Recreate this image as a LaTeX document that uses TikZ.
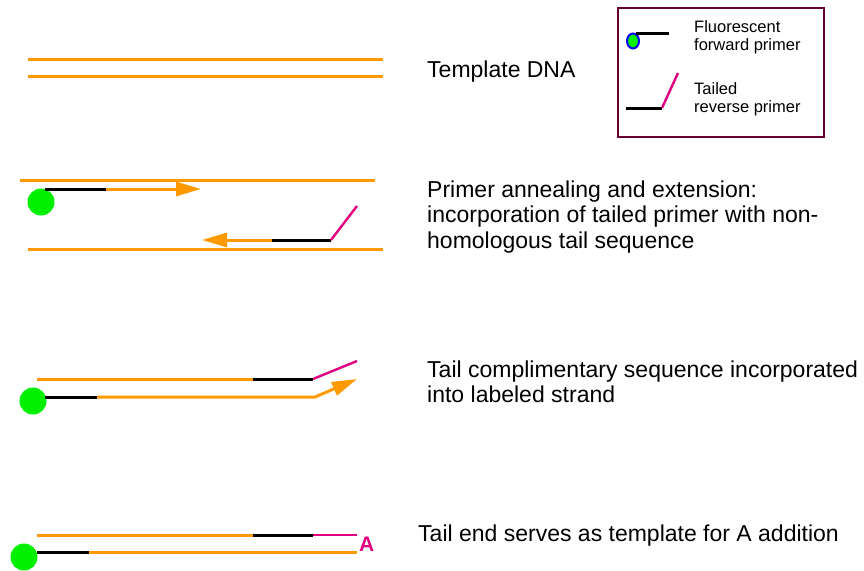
\documentclass[tikz,border=0pt]{standalone}
\usepackage{fontspec}
\setmainfont{Liberation Sans}
\usetikzlibrary{arrows.meta,shapes.geometric}
\definecolor{dnaorange}{HTML}{FF9900}
\definecolor{tailpink}{HTML}{E0007F}
\definecolor{boxpurple}{HTML}{660033}
\definecolor{dotgreen}{HTML}{00F000}
\tikzset{
  strand/.style={draw=dnaorange, line width=3pt},
  primer/.style={draw=black, line width=3pt},
  tail/.style={draw=tailpink, line width=2.4pt},
  ext/.style={draw=dnaorange, line width=3pt, -{Triangle[length=25pt,width=14pt]}},
  label/.style={anchor=base west, font=\fontsize{23}{25}\selectfont, inner sep=0pt},
  legtext/.style={anchor=base west, font=\fontsize{16.5}{18}\selectfont, inner sep=0pt},
  dye/.style={circle, fill=dotgreen, minimum size=27pt, inner sep=0pt}
}
\begin{document}
\begin{tikzpicture}[x=1pt,y=-1pt]
\useasboundingbox (0,0) rectangle (864,570);
% Legend
\node[draw=boxpurple, line width=2pt, minimum width=206pt, minimum height=129pt, anchor=north west, inner sep=0pt] (legend) at (617,7) {};
\node[ellipse, draw=blue, line width=2pt, fill=dotgreen, minimum width=12pt, minimum height=15pt, inner sep=0pt] (ldye) at (633,41) {};
\coordinate (lf1) at (636,33);
\coordinate (lf2) at (669,33);
\draw[primer] (lf1) -- (lf2);
\node[legtext] (lt1) at (694,32) {Fluorescent};
\node[legtext] (lt1b) at (694,50) {forward primer};
\coordinate (lr1) at (626,108);
\coordinate (lr2) at (662,108);
\coordinate (lr3) at (678,73);
\draw[primer] (lr1) -- (lr2);
\draw[tail] (lr2) -- (lr3);
\node[legtext] (lt2) at (694,94) {Tailed};
\node[legtext] (lt2b) at (694,112) {reverse primer};
% Section 1
\coordinate (a1) at (28,59); \coordinate (a2) at (383,59);
\coordinate (b1) at (28,76); \coordinate (b2) at (383,76);
\draw[strand] (a1) -- (a2);
\draw[strand] (b1) -- (b2);
\node[label] (t1) at (427,77) {Template DNA};
% Section 2
\coordinate (c1) at (20,180); \coordinate (c2) at (375,180);
\draw[strand] (c1) -- (c2);
\coordinate (d1) at (28,249); \coordinate (d2) at (383,249);
\draw[strand] (d1) -- (d2);
\node[dye] (g2) at (41,202) {};
\coordinate (p1) at (45,189); \coordinate (p2) at (106,189); \coordinate (p3) at (201,189);
\draw[primer] (p1) -- (p2);
\draw[ext] (p2) -- (p3);
\coordinate (r1) at (331,240); \coordinate (r2) at (272,240); \coordinate (r3) at (202,240);
\coordinate (r4) at (357,206);
\draw[primer] (r1) -- (r2);
\draw[ext] (r2) -- (r3);
\draw[tail] (r1) -- (r4);
\node[label] (t2a) at (427,197) {Primer annealing and extension:};
\node[label] (t2b) at (427,222.5) {incorporation of tailed primer with non-};
\node[label] (t2c) at (427,248) {homologous tail sequence};
% Section 3
\coordinate (e1) at (37,379); \coordinate (e2) at (253,379); \coordinate (e3) at (313,379); \coordinate (e4) at (357,361);
\draw[strand] (e1) -- (e2);
\draw[primer] (e2) -- (e3);
\draw[tail] (e3) -- (e4);
\node[dye] (g3) at (33,401) {};
\coordinate (f1) at (45,397); \coordinate (f2) at (97,397); \coordinate (f3) at (315,397); \coordinate (f4) at (357,379);
\draw[primer] (f1) -- (f2);
\draw[ext] (f2) -- (f3) -- (f4);
\node[label] (t3a) at (427,377) {Tail complimentary sequence incorporated};
\node[label] (t3b) at (427,402) {into labeled strand};
% Section 4
\coordinate (h1) at (37,535); \coordinate (h2) at (253,535); \coordinate (h3) at (313,535); \coordinate (h4) at (357,535);
\draw[strand] (h1) -- (h2);
\draw[primer] (h2) -- (h3);
\draw[tail] (h3) -- (h4);
\node[anchor=base west, inner sep=0pt, text=tailpink, font=\fontsize{21}{21}\selectfont\bfseries] (aa) at (359,551) {A};
\node[dye] (g4) at (24,557) {};
\coordinate (k1) at (37,552); \coordinate (k2) at (89,552); \coordinate (k3) at (357,552);
\draw[primer] (k1) -- (k2);
\draw[strand] (k2) -- (k3);
\node[label] (t4) at (418,541) {Tail end serves as template for A addition};
\end{tikzpicture}
\end{document}
